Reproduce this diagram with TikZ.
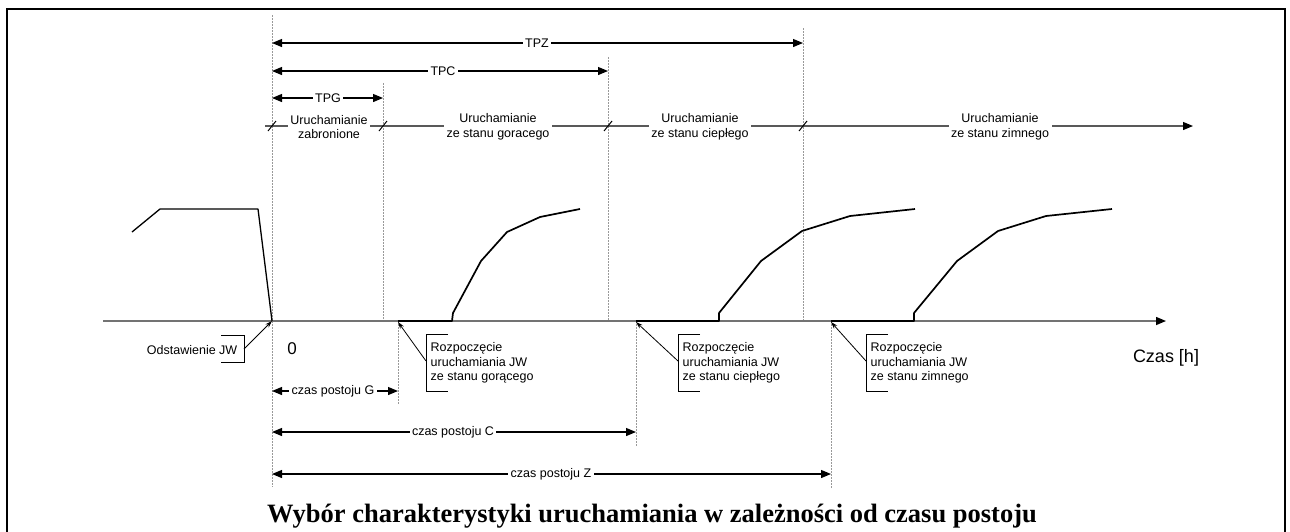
\documentclass[tikz,border=0pt]{standalone}
\usepackage{fontspec}
\setmainfont{Liberation Sans}
\newfontfamily\titlefont{Liberation Serif}
\usetikzlibrary{arrows.meta}
\begin{document}
\begin{tikzpicture}[x=1pt,y=-1pt,
  lbl/.style={font=\fontsize{12.5}{14.5}\selectfont, inner sep=1.5pt, align=center},
  dimlbl/.style={lbl, fill=white, inner xsep=2.5pt},
  dimline/.style={line width=1.2pt, {Triangle[length=10pt,width=8pt]}-{Triangle[length=10pt,width=8pt]}},
  guide/.style={dash pattern=on 1.5pt off 1.5pt, black!40, line width=0.8pt},
  axisline/.style={line width=1.4pt, black!55, -{Triangle[length=10pt,width=8pt,color=black]}},
  stateline/.style={line width=1.2pt, black!65},
  slashmark/.style={line width=1pt, black},
  curveline/.style={line width=1.7pt, line join=round},
  bracketline/.style={line width=0.8pt},
  callarrow/.style={line width=0.8pt, -{Stealth[length=7pt,width=4.5pt]}}
]
\useasboundingbox (0,0) rectangle (1290,531);
% frame
\draw[line width=1.3pt] (7,560) -- (7,9) -- (1285,9) -- (1285,560);

% key coordinates
\coordinate (z0) at (272,321);
\coordinate (g) at (383,321);
\coordinate (c) at (608,321);
\coordinate (zz) at (803,321);
\coordinate (sg) at (398,321);
\coordinate (sc) at (636,321);
\coordinate (sz) at (831,321);

% guides
\draw[guide] (272,15) -- (272,487);
\draw[guide] (383,83) -- (g);
\draw[guide] (608,57) -- (c);
\draw[guide] (803,28) -- (zz);
\draw[guide] (sg) -- (398,404);
\draw[guide] (sc) -- (636,447);
\draw[guide] (sz) -- (831,488);

% upper dimensions
\coordinate (tpzA) at (272,43); \coordinate (tpzB) at (803,43);
\coordinate (tpcA) at (272,71); \coordinate (tpcB) at (608,71);
\coordinate (tpgA) at (272,98); \coordinate (tpgB) at (383,98);
\draw[dimline] (tpzA) -- (tpzB);
\draw[dimline] (tpcA) -- (tpcB);
\draw[dimline] (tpgA) -- (tpgB);
\node[dimlbl] (tpz) at (537,43) {TPZ};
\node[dimlbl] (tpc) at (443,71) {TPC};
\node[dimlbl] (tpg) at (328,98) {TPG};

% state row
\coordinate (sA) at (265,126); \coordinate (sB) at (1193,126);
\draw[stateline, -{Triangle[length=10pt,width=8pt,color=black]}] (sA) -- (sB);
\foreach \x in {272,383,608,803} \draw[slashmark] (\x-4,131) -- (\x+4,121);
\node[dimlbl] (st1) at (329,127) {Uruchamianie\\zabronione};
\node[dimlbl] (st2) at (498,127) {Uruchamianie\\ze stanu goracego};
\node[dimlbl] (st3) at (700,127) {Uruchamianie\\ze stanu ciepłego};
\node[dimlbl] (st4) at (1000,127) {Uruchamianie\\ze stanu zimnego};

% time axis
\coordinate (axA) at (103,321); \coordinate (axB) at (1166,321);
\draw[axisline] (axA) -- (axB);

% curves
\draw[curveline, line width=1.3pt] (132,232) -- (160,209) -- (258,209) -- (z0);
\draw[curveline] (sg) -- (452,321) -- (453,313) -- (481,261) -- (507,232) -- (540,217) -- (580,209);
\draw[curveline] (sc) -- (719,321) -- (719,313) -- (761,261) -- (802,231) -- (850,216) -- (915,209);
\draw[curveline] (sz) -- (914,321) -- (914,313) -- (957,261) -- (998,231) -- (1046,216) -- (1112,209);

% Odstawienie JW
\node[lbl, anchor=east] (odst) at (239,350) {Odstawienie JW};
\draw[bracketline] (221,335) -- (244,335) -- (244,362) -- (221,362);
\coordinate (odstP) at (244,349);
\draw[callarrow] (odstP) -- (z0);
\node[font=\fontsize{17}{20}\selectfont, inner sep=0pt] (zero) at (292,349) {0};

% callouts
\foreach \bx/\tx/\name/\st in {426/sg/cg/gorącego, 678/sc/cc/ciepłego, 866/sz/cz/zimnego}{
  \draw[bracketline] (\bx+22,334) -- (\bx,334) -- (\bx,391) -- (\bx+22,391);
  \coordinate (\name P) at (\bx,361);
  \draw[callarrow] (\name P) -- ([yshift=-1pt]\tx);
  \node[lbl, align=left, anchor=west] (\name) at (\bx+3,363) {Rozpoczęcie\\uruchamiania JW\\ze stanu \st};
}

% Czas [h]
\node[font=\fontsize{18}{21}\selectfont, inner sep=0pt] (czas) at (1166,358) {Czas [h]};

% lower dimensions
\coordinate (pgA) at (272,391); \coordinate (pgB) at (398,391);
\coordinate (pcA) at (272,432); \coordinate (pcB) at (636,432);
\coordinate (pzA) at (272,474); \coordinate (pzB) at (831,474);
\draw[dimline] (pgA) -- (pgB);
\draw[dimline] (pcA) -- (pcB);
\draw[dimline] (pzA) -- (pzB);
\node[dimlbl] (pg) at (333,391) {czas postoju G};
\node[dimlbl] (pc) at (453,432) {czas postoju C};
\node[dimlbl] (pz) at (551,474) {czas postoju Z};

% title
\node[font=\titlefont\bfseries\fontsize{26.5}{30}\selectfont, anchor=base, inner sep=0pt] (title) at (652,522) {Wybór charakterystyki uruchamiania w zależności od czasu postoju};
\end{tikzpicture}
\end{document}
